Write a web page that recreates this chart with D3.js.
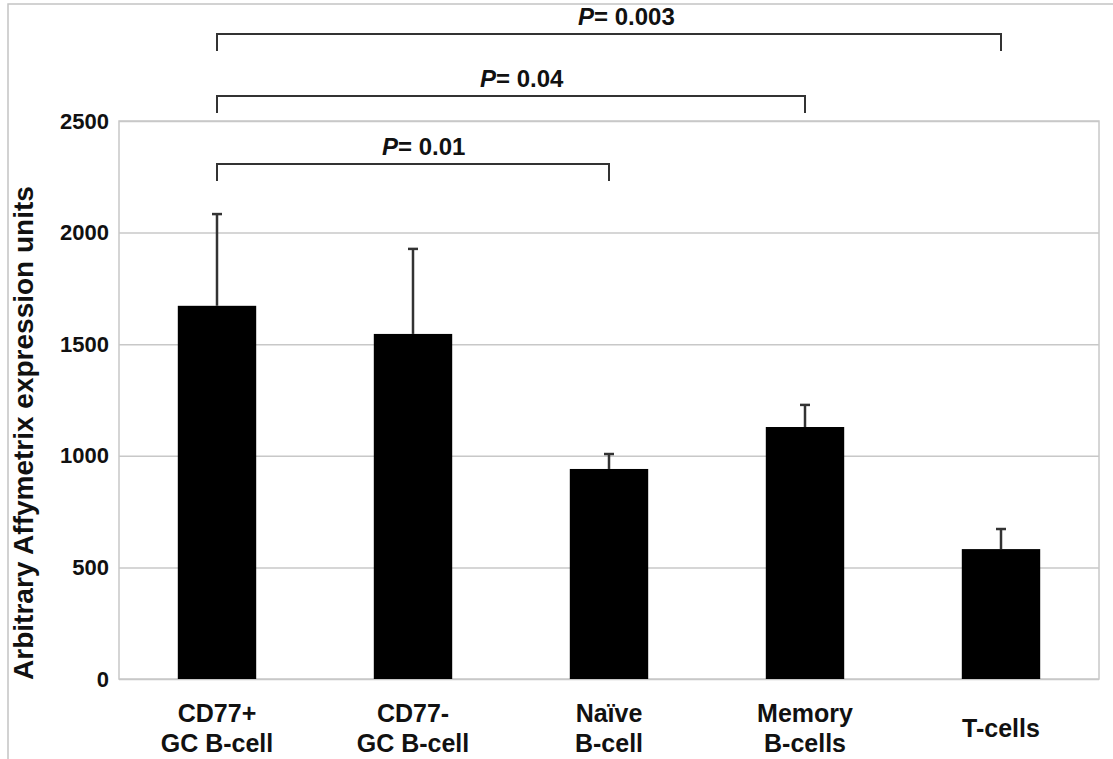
<!DOCTYPE html>
<html>
<head>
<meta charset="utf-8">
<script src="https://cdn.jsdelivr.net/npm/d3@7"></script>
<style>
  body { margin: 0; background: #fff; }
  text { font-family: "Liberation Sans", Arial, sans-serif; font-weight: bold; fill: #111; }
</style>
</head>
<body>
<div id="chart"></div>
<script>
// data
const categories = ["CD77+\nGC B-cell", "CD77-\nGC B-cell", "Naïve\nB-cell", "Memory\nB-cells", "T-cells"];
const means = [1672, 1546, 941, 1129, 582];
const errors = [411, 381, 67, 99, 90];
const yTicks = [0, 500, 1000, 1500, 2000, 2500];

// significance brackets
const bracketFrom = [0, 0, 0];
const bracketTo = [2, 3, 4];
const pValues = ["0.01", "0.04", "0.003"];

const W = 1113, H = 759;
const plot = { left: 119, right: 1099, top: 121, bottom: 679 };
const bracketY = [164, 96, 34];

const svg = d3.select("#chart").append("svg")
    .attr("width", W)
    .attr("height", H);

// outer frame (top + left only)
svg.append("path")
    .attr("d", `M8,${H} L8,4 L${W},4`)
    .attr("fill", "none")
    .attr("stroke", "#c4c4c4")
    .attr("stroke-width", 1.5);

const x = d3.scaleBand()
    .domain(categories)
    .range([plot.left, plot.right])
    .paddingInner(0.6)
    .paddingOuter(0.3);

const y = d3.scaleLinear()
    .domain([0, 2500])
    .range([plot.bottom, plot.top]);

// gridlines
svg.append("g")
    .attr("transform", `translate(${plot.left},0)`)
    .call(d3.axisLeft(y).tickValues(yTicks).tickSize(-(plot.right - plot.left)).tickFormat(""))
    .call(g => g.select(".domain").remove())
    .call(g => g.selectAll("line").attr("stroke", "#c8c8c8").attr("stroke-width", 1.5));

// plot frame
svg.append("rect")
    .attr("x", plot.left)
    .attr("y", plot.top)
    .attr("width", plot.right - plot.left)
    .attr("height", plot.bottom - plot.top)
    .attr("fill", "none")
    .attr("stroke", "#c8c8c8")
    .attr("stroke-width", 1.5);

// y axis labels
svg.append("g")
    .attr("transform", `translate(${plot.left},0)`)
    .call(d3.axisLeft(y).tickValues(yTicks).tickSize(0).tickPadding(10).tickFormat(d3.format("d")))
    .call(g => g.select(".domain").remove())
    .call(g => g.selectAll("text")
        .style("font-size", "22px")
        .style("font-family", "'Liberation Sans', Arial, sans-serif")
        .style("font-weight", "bold")
        .attr("fill", "#111"));

// y axis title
svg.append("text")
    .attr("transform", "rotate(-90)")
    .attr("x", -433)
    .attr("y", 33)
    .attr("text-anchor", "middle")
    .style("font-size", "28px")
    .text("Arbitrary Affymetrix expression units");

// bars
svg.selectAll(".bar")
    .data(categories)
    .enter().append("rect")
    .attr("class", "bar")
    .attr("x", d => x(d))
    .attr("y", (d, i) => y(means[i]))
    .attr("width", x.bandwidth())
    .attr("height", (d, i) => y(0) - y(means[i]))
    .attr("fill", "#000");

// error bars
const eb = svg.selectAll(".err")
    .data(categories)
    .enter().append("g")
    .attr("class", "err")
    .attr("stroke", "#333")
    .attr("stroke-width", 2.5);

eb.append("line")
    .attr("x1", d => x(d) + x.bandwidth() / 2)
    .attr("x2", d => x(d) + x.bandwidth() / 2)
    .attr("y1", (d, i) => y(means[i]))
    .attr("y2", (d, i) => y(means[i] + errors[i]));

eb.append("line")
    .attr("x1", d => x(d) + x.bandwidth() / 2 - 5)
    .attr("x2", d => x(d) + x.bandwidth() / 2 + 5)
    .attr("y1", (d, i) => y(means[i] + errors[i]))
    .attr("y2", (d, i) => y(means[i] + errors[i]));

// x axis labels
svg.append("g")
    .attr("transform", `translate(0,${plot.bottom})`)
    .call(d3.axisBottom(x).tickSize(0).tickFormat(""))
    .call(g => g.select(".domain").remove())
    .call(g => g.selectAll(".tick").each(function(d) {
        const lines = d.split("\n");
        const t = d3.select(this).append("text")
            .attr("text-anchor", "middle")
            .style("font-size", "25px")
            .style("font-family", "'Liberation Sans', Arial, sans-serif")
            .style("font-weight", "bold")
            .attr("fill", "#111");
        const y0 = lines.length === 1 ? 58 : 43;
        lines.forEach((s, k) => {
            t.append("tspan").attr("x", 0).attr("y", y0 + k * 30).text(s);
        });
    }));

// significance brackets
const cx = i => x(categories[i]) + x.bandwidth() / 2;

pValues.forEach((p, i) => {
    const x1 = cx(bracketFrom[i]), x2 = cx(bracketTo[i]), by = bracketY[i];
    svg.append("path")
        .attr("d", `M${x1},${by + 17} L${x1},${by} L${x2},${by} L${x2},${by + 17}`)
        .attr("fill", "none")
        .attr("stroke", "#333")
        .attr("stroke-width", 2);

    const t = svg.append("text")
        .attr("x", (x1 + x2) / 2 - 31)
        .attr("y", by - 9)
        .style("font-size", "24px");
    t.append("tspan").style("font-style", "italic").text("P");
    t.append("tspan").text("= " + p);
});
</script>
</body>
</html>
